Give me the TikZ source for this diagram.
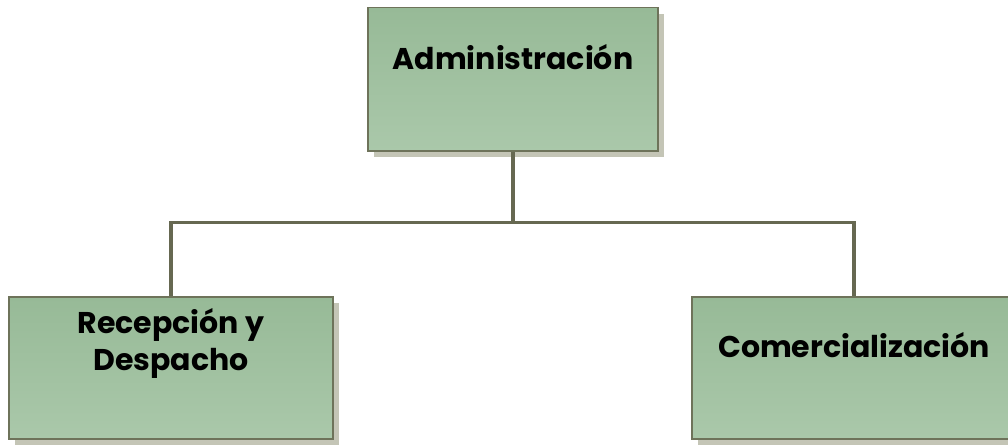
\documentclass[tikz,border=0pt]{standalone}
\usepackage{fontspec}
\setmainfont{Poppins}
\usetikzlibrary{positioning,shadows,calc}
\definecolor{boxtop}{HTML}{97BA97}
\definecolor{boxbot}{HTML}{AAC8AA}
\definecolor{boxline}{HTML}{6E735A}
\definecolor{shad}{HTML}{C4C5B6}
\definecolor{lnc}{HTML}{666851}
\tikzset{
  unit/.style  ={draw=boxline,line width=1.5pt,top color=boxtop,bottom color=boxbot,
                 align=center,font=\bfseries\fontsize{30}{37}\selectfont,inner sep=0pt,
                 drop shadow={shadow xshift=6pt,shadow yshift=-6pt,fill=shad,opacity=1}},
  ln/.style    ={draw=lnc,line width=3.8pt},
}

\begin{document}
\begin{tikzpicture}[x=1pt,y=-1pt]
\useasboundingbox (0,0) rectangle (1008,444);
% head
\node[unit,minimum width=290pt,text height=62pt,text depth=81pt] (ADM) at (513,7) [anchor=north] {Administración};

% ---- units ------------------------------------------------------------
\node[unit,minimum width=324pt,text height=74pt,text depth=68pt] (REC) at (171,296) [anchor=north] {Recepción y\\Despacho};
\node[unit,minimum width=324pt,text height=61pt,text depth=81pt] (COM) at (854,296) [anchor=north] {Comercialización};

% ---- edges ------------------------------------------------------------
\draw[ln] (ADM.south) -- ++(0,71) coordinate (J);
\draw[ln] (J) -| (REC.north);
\draw[ln] (J) -| (COM.north);
\end{tikzpicture}
\end{document}
